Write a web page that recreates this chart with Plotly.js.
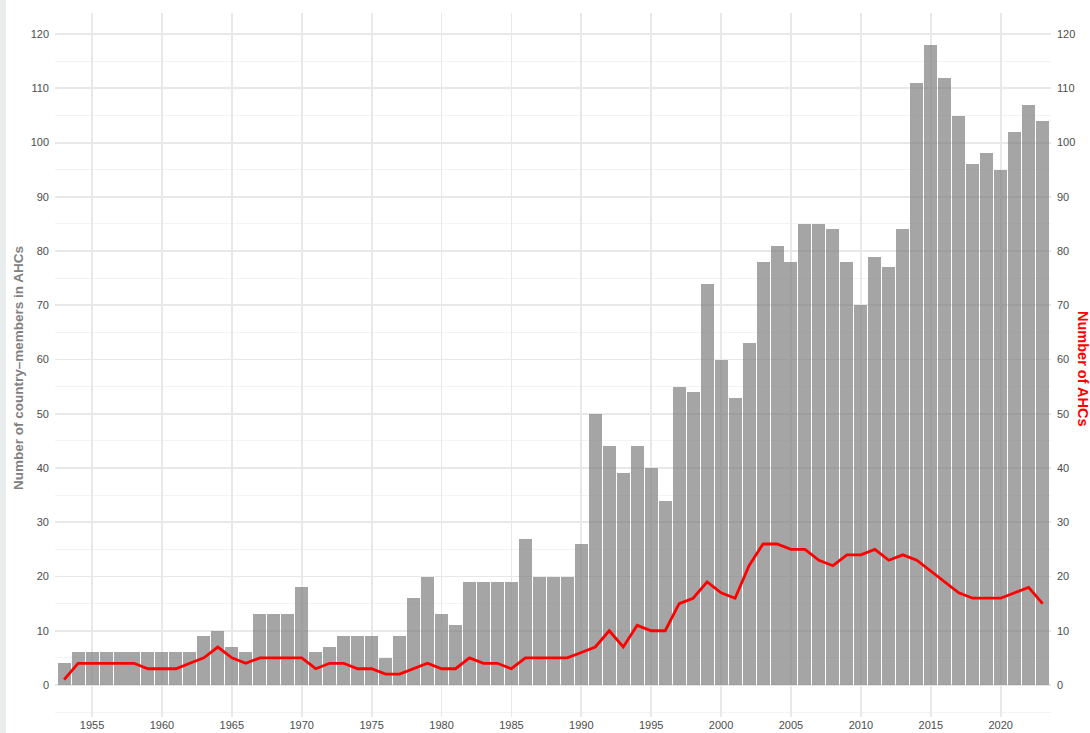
<!DOCTYPE html>
<html>
<head>
<meta charset="utf-8">
<script src="https://cdn.plot.ly/plotly-3.0.1.min.js"></script>
<style>
  html, body { margin: 0; padding: 0; background: #ffffff; }
  #strip { position: absolute; left: 0; top: 0; width: 6px; height: 733px; background: #e7eeed; }
  #chart { position: absolute; left: 0; top: 0; width: 1090px; height: 733px; }
</style>
</head>
<body>
<div id="strip"></div>
<div id="chart"></div>
<script>
const years = [];
for (let y = 1953; y <= 2023; y++) years.push(y);

const members = [
  4, 6, 6, 6, 6, 6, 6, 6, 6, 6,        // 1953-1962
  9, 10, 7, 6, 13, 13, 13, 18, 6, 7,    // 1963-1972
  9, 9, 9, 5, 9, 16, 20, 13, 11, 19,    // 1973-1982
  19, 19, 19, 27, 20, 20, 20, 26, 50, 44, // 1983-1992
  39, 44, 40, 34, 55, 54, 74, 60, 53, 63, // 1993-2002
  78, 81, 78, 85, 85, 84, 78, 70, 79, 77, // 2003-2012
  84, 111, 118, 112, 105, 96, 98, 95, 102, 107, // 2013-2022
  104                                    // 2023
];

const ahcs = [
  1, 4, 4, 4, 4, 4, 3, 3, 3, 4,          // 1953-1962
  5, 7, 5, 4, 5, 5, 5, 5, 3, 4,          // 1963-1972
  4, 3, 3, 2, 2, 3, 4, 3, 3, 5,          // 1973-1982
  4, 4, 3, 5, 5, 5, 5, 6, 7, 10,         // 1983-1992
  7, 11, 10, 10, 15, 16, 19, 17, 16, 22, // 1993-2002
  26, 26, 25, 25, 23, 22, 24, 24, 25, 23, // 2003-2012
  24, 23, 21, 19, 17, 16, 16, 16, 17, 18, // 2013-2022
  15                                      // 2023
];

const xTicks = [1955, 1960, 1965, 1970, 1975, 1980, 1985, 1990, 1995, 2000, 2005, 2010, 2015, 2020];
const yTicks = [0, 10, 20, 30, 40, 50, 60, 70, 80, 90, 100, 110, 120];

const leftTitle = "Number of country–members in AHCs";
const rightTitle = "Number of AHCs";

const font = "Liberation Sans, Arial, Helvetica, sans-serif";
const yRange = [-5.9, 123.9];

const traces = [
  {
    type: 'bar', x: years, y: members,
    width: 0.93,
    marker: { color: 'rgba(127,127,127,0.7)', line: { width: 0 } },
    hoverinfo: 'x+y', showlegend: false
  },
  {
    type: 'scatter', mode: 'lines', x: years, y: ahcs, yaxis: 'y2',
    line: { color: '#ff0000', width: 2.8 },
    showlegend: false
  }
];

const layout = {
  width: 1090, height: 733,
  margin: { l: 55, r: 39, t: 12.5, b: 16, pad: 0 },
  paper_bgcolor: 'rgba(0,0,0,0)',
  plot_bgcolor: '#ffffff',
  font: { family: font, size: 11, color: '#4d4d4d' },
  bargap: 0,
  xaxis: {
    range: [1952.35, 2023.6],
    tickmode: 'array', tickvals: xTicks, ticktext: xTicks.map(String),
    showgrid: true, gridcolor: '#e8e8e8', gridwidth: 1.8,
    zeroline: false, showline: false, ticks: '',
    ticklabelstandoff: 0,
    tickfont: { size: 11, color: '#4d4d4d' }
  },
  yaxis: {
    range: yRange,
    tickmode: 'array', tickvals: yTicks, ticktext: yTicks.map(String),
    showgrid: true, gridcolor: '#e8e8e8', gridwidth: 1.8,
    minor: { dtick: 5, tick0: 0, showgrid: true, gridcolor: '#f2f2f2', gridwidth: 0.9, ticks: '' },
    zeroline: false, showline: false, ticks: '',
    ticklabelstandoff: 5,
    tickfont: { size: 11, color: '#4d4d4d' }
  },
  yaxis2: {
    range: yRange, overlaying: 'y', side: 'right',
    tickmode: 'array', tickvals: yTicks, ticktext: yTicks.map(String),
    showgrid: false, zeroline: false, showline: false, ticks: '',
    ticklabelstandoff: 5,
    tickfont: { size: 11, color: '#4d4d4d' }
  },
  annotations: [
    {
      text: leftTitle, xref: 'paper', yref: 'paper', x: 0, y: 0.5,
      xanchor: 'center', yanchor: 'middle', xshift: -37, yshift: -3, textangle: -90,
      showarrow: false, font: { family: font, size: 13.5, color: '#808080', weight: 'bold' }
    },
    {
      text: rightTitle, xref: 'paper', yref: 'paper', x: 1, y: 0.5,
      xanchor: 'center', yanchor: 'middle', xshift: 32, yshift: -3, textangle: 90,
      showarrow: false, font: { family: font, size: 14.5, color: '#ff0000', weight: 'bold' }
    }
  ]
};

Plotly.newPlot('chart', traces, layout, { displayModeBar: false, staticPlot: true });
</script>
</body>
</html>
